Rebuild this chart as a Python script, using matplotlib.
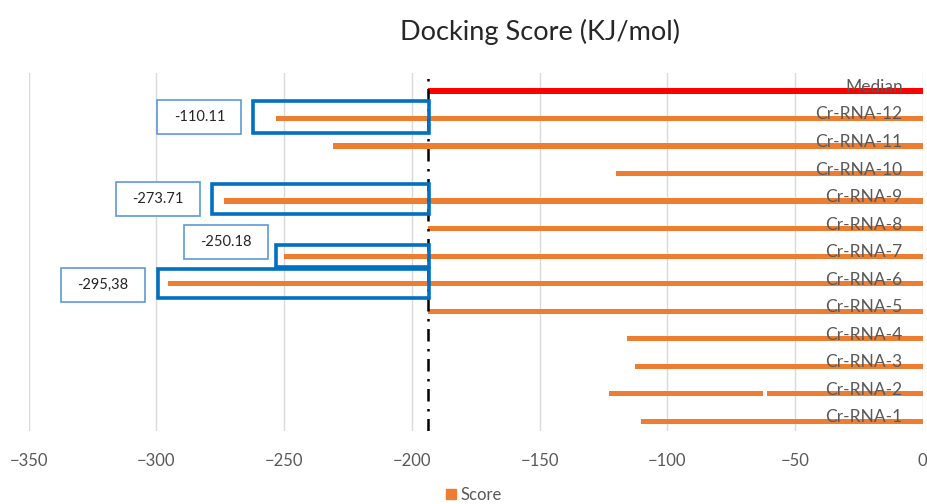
import matplotlib.pyplot as plt
from matplotlib.patches import Rectangle
from matplotlib.lines import Line2D

plt.rcParams['font.family'] = ['Lato', 'DejaVu Sans']

# docking scores, bottom row first
names = ['Cr-RNA-1', 'Cr-RNA-2', 'Cr-RNA-3', 'Cr-RNA-4', 'Cr-RNA-5', 'Cr-RNA-6',
         'Cr-RNA-7', 'Cr-RNA-8', 'Cr-RNA-9', 'Cr-RNA-10', 'Cr-RNA-11', 'Cr-RNA-12',
         'Median']
scores = [-110.11, -122.8, -112.6, -115.9, -193.5, -295.38,
          -250.18, -193.5, -273.71, -120.2, -230.8, -253.3,
          -193.7]
median_score = -193.7
cr2_break = (-62.6, -61.0)

callout_text = ['-110.11', '-273.71', '-250.18', '-295,38']
callout_row = [11, 8, 6, 5]
# callout layout: box centre (x), vertical shift from the row
callout_x = [-283.2, -299.3, -272.9, -320.9]
callout_dy = [0.06, 0.08, 0.5, -0.04]
callout_w, callout_h = 32.9, 1.235
# highlight frames: left edge, vertical shift, half height
frame_left = [-262.0, -278.1, -253.3, -299.5]
frame_dy = [0.05, 0.07, 0.02, 0.02]
frame_half = [0.57, 0.55, 0.40, 0.53]

orange = '#ED7D31'
blue = '#0070C0'
grey = '#595959'

fig = plt.figure(figsize=(9.28, 5.04), dpi=100)
ax = fig.add_axes([28.7 / 928, 1 - 430.7 / 504, 894 / 928, 357.7 / 504])

rows = list(range(len(names)))
colors = [orange] * (len(names) - 1) + ['#FF0000']
ax.barh(rows, scores, height=0.19, color=colors, zorder=2)
# small break in the Cr-RNA-2 bar
ax.barh(1, cr2_break[1] - cr2_break[0], left=cr2_break[0], height=0.3,
        color='white', zorder=2.5)

ax.set_xlim(-350, 0)
ax.set_ylim(-0.34, 12.65)
ax.set_xticks(range(-350, 1, 50))
ax.set_yticks([])
ax.grid(axis='x', color='#D9D9D9', lw=1, zorder=0)
ax.tick_params(axis='x', length=0, pad=16, labelsize=12, labelcolor=grey)
for s in ax.spines.values():
    s.set_visible(False)

for r, n in zip(rows, names):
    ax.annotate(n, (0, r), xytext=(-20, 4), textcoords='offset pixels',
                ha='right', va='center', fontsize=12.5, color=grey, zorder=3)

# median marker line
ax.axvline(median_score, color='black', lw=1.8, ls=(0, (5, 3, 1, 3)), zorder=4)

for i, r in enumerate(callout_row):
    yc = r + frame_dy[i]
    h = frame_half[i]
    ax.add_patch(Rectangle((frame_left[i], yc - h), median_score + 0.3 - frame_left[i], 2 * h,
                           fill=False, ec=blue, lw=2.6, zorder=5))
    cy = r + callout_dy[i]
    ax.add_patch(Rectangle((callout_x[i] - callout_w / 2, cy - callout_h / 2),
                           callout_w, callout_h, fc='white', ec='#5B9BD5', lw=1.2,
                           zorder=6))
    ax.text(callout_x[i], cy, callout_text[i], ha='center', va='center',
            fontsize=10.5, color='#262626', zorder=7)

fig.text(540 / 928, 1 - 32 / 504, 'Docking Score (KJ/mol)', ha='center', va='center',
         fontsize=19.5, color='#262626')

handle = Line2D([], [], marker='s', ls='', color=orange, markersize=7)
fig.legend([handle], ['Score'], loc='center', bbox_to_anchor=(473 / 928, 1 - 495 / 504),
           frameon=False, fontsize=12, labelcolor=grey, handletextpad=0.2,
           handlelength=0.8)

fig.savefig('out.png', dpi=100)
